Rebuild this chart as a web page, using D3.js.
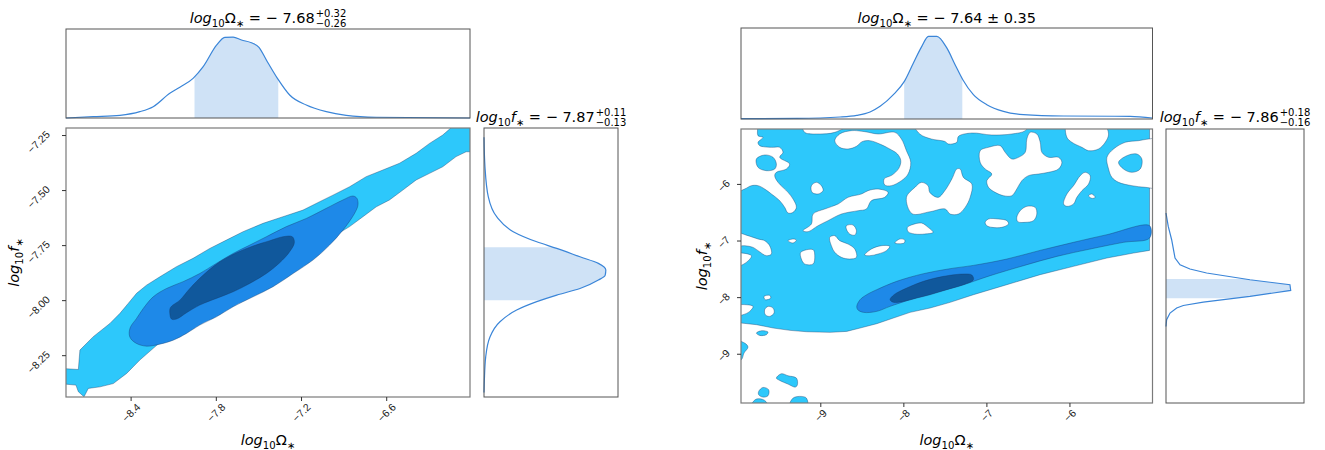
<!DOCTYPE html>
<html>
<head>
<meta charset="utf-8">
<script src="https://cdn.jsdelivr.net/npm/d3@7"></script>
<style>
  body { margin: 0; background: #fff; }
  svg { font-family: "DejaVu Sans", sans-serif; }
</style>
</head>
<body>
<div id="chart"></div>
<script>
// axis limits and ticks
const leftOmegaDomain = [-8.855, -6.01];
const leftFDomain = [-8.44, -7.218];
const rightOmegaDomain = [-9.955, -5.0];
const rightFDomain = [-9.87, -5.03];
const leftOmegaTicks = [-8.4, -7.8, -7.2, -6.6];
const leftFTicks = [-7.25, -7.5, -7.75, -8.0, -8.25];
const rightOmegaTicks = [-9, -8, -7, -6];
const rightFTicks = [-6, -7, -8, -9];

// marginal posteriors [value, density]
const leftOmegaPdf = [[-8.855,0],[-8.663,0.016],[-8.475,0.033],[-8.335,0.078],[-8.241,0.14],[-8.124,0.305],[-8.053,0.38],[-7.96,0.49],[-7.889,0.634],[-7.795,0.9],[-7.737,0.997],[-7.678,1.0],[-7.619,0.964],[-7.549,0.93],[-7.496,0.874],[-7.444,0.717],[-7.366,0.49],[-7.28,0.284],[-7.163,0.16],[-7.022,0.078],[-6.882,0.033],[-6.67,0.009],[-6.01,0]];
const leftFPdf = [[-7.26,0],[-7.394,0.008],[-7.53,0.035],[-7.621,0.104],[-7.689,0.24],[-7.735,0.433],[-7.765,0.597],[-7.803,0.788],[-7.833,0.939],[-7.863,1.0],[-7.886,0.995],[-7.909,0.939],[-7.947,0.788],[-7.977,0.597],[-8.007,0.433],[-8.045,0.268],[-8.098,0.131],[-8.167,0.049],[-8.258,0.014],[-8.364,0.003],[-8.42,0]];
const rightOmegaPdf = [[-9.955,0.004],[-9.284,0.007],[-8.762,0.024],[-8.561,0.044],[-8.401,0.085],[-8.28,0.153],[-8.12,0.294],[-7.988,0.455],[-7.879,0.677],[-7.778,0.878],[-7.698,0.999],[-7.597,0.999],[-7.477,0.859],[-7.377,0.657],[-7.284,0.475],[-7.157,0.294],[-6.995,0.173],[-6.795,0.092],[-6.554,0.052],[-6.072,0.036],[-5.268,0.032],[-5.0,0.012]];
const rightFPdf = [[-6.514,0],[-6.751,0.018],[-6.986,0.045],[-7.309,0.072],[-7.428,0.112],[-7.503,0.191],[-7.574,0.324],[-7.693,0.669],[-7.781,0.988],[-7.882,0.994],[-7.988,0.669],[-8.087,0.297],[-8.147,0.138],[-8.193,0.085],[-8.281,0.032],[-8.399,0.005],[-8.518,0]];

// 68% credible bands
const leftOmegaBand = [-7.95, -7.36];
const leftFBand = [-8.00, -7.76];
const rightOmegaBand = [-7.99, -7.29];
const rightFBand = [-8.02, -7.68];

// left 2D contours [log10 Omega, log10 f]
const leftLight = [[-8.9,-8.31],[-8.768,-8.315],[-8.757,-8.227],[-8.663,-8.166],[-8.546,-8.106],[-8.475,-8.06],[-8.417,-8.015],[-8.358,-7.969],[-8.288,-7.932],[-8.194,-7.894],[-8.077,-7.848],[-7.96,-7.81],[-7.842,-7.765],[-7.725,-7.727],[-7.608,-7.689],[-7.467,-7.651],[-7.327,-7.621],[-7.186,-7.591],[-7.069,-7.553],[-6.975,-7.523],[-6.858,-7.485],[-6.741,-7.439],[-6.624,-7.409],[-6.506,-7.378],[-6.389,-7.333],[-6.295,-7.288],[-6.202,-7.25],[-6.108,-7.197],[-5.967,-7.197],[-5.967,-7.326],[-6.037,-7.326],[-6.108,-7.348],[-6.202,-7.394],[-6.295,-7.424],[-6.389,-7.454],[-6.483,-7.5],[-6.577,-7.545],[-6.67,-7.576],[-6.764,-7.621],[-6.858,-7.666],[-6.975,-7.712],[-7.069,-7.75],[-7.186,-7.788],[-7.28,-7.818],[-7.374,-7.848],[-7.491,-7.886],[-7.608,-7.924],[-7.725,-7.969],[-7.842,-8.015],[-7.96,-8.06],[-8.053,-8.106],[-8.147,-8.166],[-8.241,-8.219],[-8.335,-8.272],[-8.428,-8.333],[-8.522,-8.379],[-8.616,-8.394],[-8.698,-8.401],[-8.728,-8.439],[-8.768,-8.416],[-8.785,-8.386],[-8.9,-8.379]];
const leftMid = [[-8.41,-8.151],[-8.4,-8.121],[-8.358,-8.083],[-8.311,-8.038],[-8.241,-7.985],[-8.147,-7.947],[-8.03,-7.916],[-7.913,-7.879],[-7.796,-7.833],[-7.678,-7.788],[-7.561,-7.75],[-7.444,-7.712],[-7.303,-7.666],[-7.163,-7.629],[-7.022,-7.583],[-6.905,-7.545],[-6.834,-7.527],[-6.806,-7.538],[-6.799,-7.568],[-6.823,-7.606],[-6.905,-7.682],[-6.999,-7.75],[-7.116,-7.818],[-7.256,-7.879],[-7.397,-7.939],[-7.538,-7.985],[-7.678,-8.03],[-7.796,-8.076],[-7.913,-8.113],[-8.006,-8.151],[-8.1,-8.182],[-8.194,-8.2],[-8.288,-8.209],[-8.358,-8.197],[-8.4,-8.174]];
const leftDark = [[-8.124,-8.06],[-8.119,-8.033],[-8.053,-8.0],[-7.983,-7.947],[-7.889,-7.886],[-7.772,-7.826],[-7.655,-7.785],[-7.538,-7.754],[-7.42,-7.73],[-7.327,-7.712],[-7.261,-7.712],[-7.247,-7.739],[-7.28,-7.78],[-7.35,-7.83],[-7.444,-7.879],[-7.561,-7.924],[-7.678,-7.962],[-7.796,-7.992],[-7.913,-8.022],[-8.006,-8.057],[-8.077,-8.086],[-8.112,-8.086]];

// right 2D contours
const rightLight = [[-10.05,-4.95],[-5.035,-4.95],[-5.035,-7.174],[-5.228,-7.221],[-5.549,-7.309],[-5.951,-7.456],[-6.353,-7.603],[-6.754,-7.78],[-7.156,-7.957],[-7.437,-8.092],[-7.678,-8.192],[-7.919,-8.269],[-8.12,-8.369],[-8.32,-8.469],[-8.521,-8.546],[-8.682,-8.605],[-8.883,-8.622],[-9.164,-8.611],[-9.365,-8.587],[-9.565,-8.546],[-9.766,-8.487],[-9.955,-8.457],[-10.05,-8.45]];
const rightHoles = [
  [[-10.05,-4.95],[-9.77,-4.95],[-9.75,-5.148],[-9.69,-5.177],[-9.75,-5.265],[-9.73,-5.324],[-9.589,-5.354],[-9.489,-5.354],[-9.449,-5.442],[-9.489,-5.53],[-9.369,-5.648],[-9.409,-5.737],[-9.529,-5.795],[-9.549,-5.854],[-9.509,-5.972],[-9.389,-6.149],[-9.328,-6.267],[-9.288,-6.414],[-9.328,-6.502],[-9.389,-6.514],[-9.429,-6.414],[-9.489,-6.296],[-9.589,-6.178],[-9.67,-6.09],[-9.75,-6.031],[-9.83,-6.031],[-9.911,-6.09],[-10.05,-6.149]],
  [[-9.208,-4.95],[-9.188,-5.089],[-9.027,-5.118],[-8.826,-5.089],[-8.666,-4.95]],
  [[-8.826,-5.236],[-8.766,-5.118],[-8.626,-5.059],[-8.465,-5.077],[-8.304,-5.118],[-8.103,-5.089],[-8.023,-5.207],[-7.963,-5.413],[-7.911,-5.619],[-7.943,-5.825],[-8.023,-5.943],[-8.144,-6.031],[-8.224,-6.019],[-8.232,-5.913],[-8.136,-5.843],[-8.055,-5.725],[-8.031,-5.589],[-8.071,-5.472],[-8.164,-5.383],[-8.284,-5.295],[-8.405,-5.236],[-8.497,-5.254],[-8.565,-5.336],[-8.666,-5.383],[-8.766,-5.354]],
  [[-7.863,-4.95],[-7.802,-5.118],[-7.662,-5.207],[-7.5,-5.25],[-7.457,-5.295],[-7.356,-5.265],[-7.336,-5.16],[-7.176,-5.101],[-6.935,-5.136],[-6.694,-5.118],[-6.533,-5.059],[-6.493,-4.95]],
  [[-7.963,-6.238],[-7.862,-6.062],[-7.783,-5.973],[-7.702,-6.032],[-7.682,-6.15],[-7.582,-6.238],[-7.501,-6.12],[-7.416,-5.913],[-7.356,-5.737],[-7.316,-5.737],[-7.277,-5.885],[-7.175,-6.002],[-7.196,-6.238],[-7.256,-6.415],[-7.337,-6.532],[-7.437,-6.532],[-7.497,-6.443],[-7.678,-6.491],[-7.895,-6.526]],
  [[-9.107,-6.031],[-9.047,-5.972],[-8.987,-6.031],[-8.967,-6.119],[-9.027,-6.178],[-9.099,-6.149]],
  [[-9.208,-6.826],[-9.107,-6.708],[-9.087,-6.532],[-8.947,-6.443],[-8.786,-6.355],[-8.666,-6.237],[-8.505,-6.178],[-8.425,-6.119],[-8.304,-6.09],[-8.184,-6.149],[-8.224,-6.237],[-8.385,-6.296],[-8.445,-6.443],[-8.545,-6.473],[-8.746,-6.532],[-8.907,-6.649],[-9.027,-6.738],[-9.148,-6.844]],
  [[-8.686,-6.738],[-8.606,-6.726],[-8.565,-6.826],[-8.585,-6.903],[-8.646,-6.885],[-8.686,-6.797]],
  [[-8.887,-6.944],[-8.826,-6.914],[-8.766,-7.003],[-8.666,-7.062],[-8.585,-7.15],[-8.565,-7.297],[-8.646,-7.327],[-8.746,-7.297],[-8.826,-7.209],[-8.867,-7.091]],
  [[-9.389,-7.003],[-9.328,-6.973],[-9.288,-6.991],[-9.328,-7.044]],
  [[-9.236,-7.209],[-9.087,-7.162],[-9.067,-7.268],[-9.087,-7.415],[-9.188,-7.415],[-9.228,-7.327]],
  [[-8.465,-7.256],[-8.385,-7.15],[-8.264,-7.091],[-8.164,-7.103],[-8.204,-7.179],[-8.304,-7.238],[-8.405,-7.268]],
  [[-8.103,-7.044],[-8.043,-6.973],[-7.983,-6.991],[-7.991,-7.044]],
  [[-7.951,-6.767],[-7.903,-6.726],[-7.782,-6.691],[-7.702,-6.767],[-7.642,-6.855],[-7.742,-6.885],[-7.863,-6.885],[-7.943,-6.844]],
  [[-10.05,-6.855],[-9.871,-6.914],[-9.75,-6.973],[-9.67,-7.003],[-9.61,-7.091],[-9.589,-7.238],[-9.65,-7.268],[-9.75,-7.179],[-9.81,-7.121],[-9.911,-7.091],[-10.05,-7.091]],
  [[-10.05,-7.238],[-9.83,-7.268],[-9.891,-7.386],[-10.05,-7.474]],
  [[-7.075,-5.413],[-6.975,-5.354],[-6.834,-5.324],[-6.774,-5.442],[-6.694,-5.56],[-6.613,-5.53],[-6.533,-5.442],[-6.513,-5.207],[-6.473,-5.089],[-6.393,-5.118],[-6.352,-5.265],[-6.332,-5.442],[-6.252,-5.53],[-6.132,-5.53],[-6.091,-5.619],[-6.132,-5.737],[-6.252,-5.795],[-6.373,-5.825],[-6.493,-5.854],[-6.573,-5.943],[-6.634,-6.09],[-6.694,-6.208],[-6.794,-6.208],[-6.895,-6.149],[-6.975,-6.06],[-6.995,-5.943],[-6.935,-5.825],[-7.015,-5.737],[-7.075,-5.619]],
  [[-6.031,-4.95],[-6.031,-5.177],[-5.971,-5.265],[-5.85,-5.354],[-5.77,-5.413],[-5.65,-5.383],[-5.569,-5.265],[-5.529,-5.118],[-5.589,-4.95]],
  [[-5.549,-5.53],[-5.469,-5.383],[-5.328,-5.265],[-5.168,-5.236],[-5.047,-5.207],[-4.9,-5.207],[-4.9,-6.06],[-5.087,-6.06],[-5.248,-6.031],[-5.409,-5.972],[-5.489,-5.884],[-5.529,-5.737]],
  [[-6.071,-6.355],[-6.031,-6.178],[-5.951,-6.031],[-5.87,-5.854],[-5.81,-5.795],[-5.75,-5.854],[-5.77,-6.002],[-5.85,-6.119],[-5.911,-6.237],[-5.951,-6.355],[-6.031,-6.396]],
  [[-5.77,-6.208],[-5.73,-6.178],[-5.69,-6.237],[-5.73,-6.255]],
  [[-6.634,-6.59],[-6.593,-6.473],[-6.513,-6.396],[-6.413,-6.414],[-6.393,-6.532],[-6.433,-6.649],[-6.533,-6.679],[-6.622,-6.667]],
  [[-7.015,-6.679],[-6.975,-6.62],[-6.854,-6.62],[-6.754,-6.649],[-6.734,-6.708],[-6.814,-6.767],[-6.935,-6.767],[-6.995,-6.738]],
  [[-10.05,-8.164],[-9.891,-8.134],[-9.81,-8.164],[-9.85,-8.252],[-9.931,-8.311],[-10.05,-8.34]],
  [[-9.678,-7.987],[-9.609,-7.969],[-9.597,-8.017],[-9.662,-8.046]],
  [[-9.67,-8.223],[-9.63,-8.164],[-9.569,-8.193],[-9.557,-8.282],[-9.61,-8.34],[-9.662,-8.311]]
];
const rightIslands = [
  [[-9.77,-5.56],[-9.67,-5.489],[-9.569,-5.53],[-9.529,-5.648],[-9.549,-5.737],[-9.65,-5.766],[-9.75,-5.707]],
  [[-5.409,-5.619],[-5.308,-5.501],[-5.188,-5.472],[-5.128,-5.56],[-5.148,-5.737],[-5.248,-5.795],[-5.349,-5.737]],
  [[-9.77,-8.635],[-9.71,-8.594],[-9.63,-8.617],[-9.65,-8.664],[-9.73,-8.676]],
  [[-10.05,-8.764],[-9.911,-8.812],[-9.871,-8.882],[-9.919,-8.988],[-9.951,-9.106],[-10.05,-9.135]],
  [[-9.529,-9.43],[-9.469,-9.353],[-9.389,-9.389],[-9.288,-9.43],[-9.276,-9.548],[-9.3,-9.589],[-9.389,-9.536],[-9.489,-9.471]],
  [[-9.742,-9.665],[-9.69,-9.595],[-9.622,-9.636],[-9.63,-9.742],[-9.69,-9.766],[-9.742,-9.724]],
  [[-9.838,-9.93],[-9.77,-9.801],[-9.67,-9.824],[-9.63,-9.93]],
  [[-9.369,-9.93],[-9.328,-9.783],[-9.228,-9.754],[-9.168,-9.783],[-9.156,-9.93]]
];
const rightMid = [[-8.561,-8.163],[-8.521,-8.045],[-8.441,-7.957],[-8.32,-7.868],[-8.08,-7.721],[-7.758,-7.586],[-7.437,-7.497],[-7.156,-7.439],[-6.754,-7.327],[-6.353,-7.174],[-5.951,-7.032],[-5.549,-6.897],[-5.035,-6.738],[-5.035,-6.956],[-5.349,-7.032],[-5.75,-7.15],[-6.152,-7.28],[-6.553,-7.444],[-6.955,-7.621],[-7.276,-7.78],[-7.598,-7.91],[-7.919,-8.045],[-8.16,-8.163],[-8.32,-8.251],[-8.481,-8.269],[-8.549,-8.222]];
const rightDark = [[-8.16,-8.045],[-8.112,-7.957],[-7.959,-7.839],[-7.758,-7.721],[-7.517,-7.633],[-7.276,-7.592],[-7.176,-7.609],[-7.156,-7.692],[-7.276,-7.78],[-7.477,-7.868],[-7.678,-7.957],[-7.839,-8.016],[-8.0,-8.075],[-8.12,-8.092]];

const light = "#2dc8fb", mid = "#1e89e8", dark = "#10589c";
const edge = "rgba(20,55,100,0.55)";
const pdfLine = "#3a85d8", pdfFill = "#cfe2f6";

const width = 1325, height = 450;
const svg = d3.select("#chart").append("svg")
    .attr("width", width)
    .attr("height", height);

const panels = [
  { id: "L", joint: {x: 66, y: 128, w: 404, h: 269}, top: {x: 66, y: 29, w: 404, h: 89}, side: {x: 484, y: 128, w: 134, h: 269},
    xd: leftOmegaDomain, yd: leftFDomain, xt: leftOmegaTicks, yt: leftFTicks, xf: d3.format(".1f"), yf: d3.format(".2f"),
    xPdf: leftOmegaPdf, yPdf: leftFPdf, xBand: leftOmegaBand, yBand: leftFBand, yTickShift: [-18, -3], yLabelGap: 47,
    topTitle: [" = − 7.68", "+0.32", "−0.26"], sideTitle: [" = − 7.87", "+0.11", "−0.13"] },
  { id: "R", joint: {x: 741, y: 129, w: 411.5, h: 274}, top: {x: 741, y: 28, w: 411.5, h: 91}, side: {x: 1166, y: 129, w: 138, h: 274},
    xd: rightOmegaDomain, yd: rightFDomain, xt: rightOmegaTicks, yt: rightFTicks, xf: d3.format("d"), yf: d3.format("d"),
    xPdf: rightOmegaPdf, yPdf: rightFPdf, xBand: rightOmegaBand, yBand: rightFBand, yTickShift: [-13, -3], yLabelGap: 34,
    topTitle: [" = − 7.64 ± 0.35", null, null], sideTitle: [" = − 7.86", "+0.18", "−0.16"] }
];

// write log10Ω* style math with tspans
function mathText(sel, parts, size) {
  const t = sel.append("text").attr("font-size", size).attr("fill", "#000");
  let down = false;
  parts.forEach(p => {
    const s = t.append("tspan").text(p[0]);
    if (p[1] === "i") s.attr("font-style", "italic");
    if (p[1] === "s") {
      s.attr("font-size", size * 0.7);
      if (!down) { s.attr("dy", size * 0.28); down = true; }
    } else if (down) { s.attr("dy", -size * 0.28); down = false; }
  });
  return t;
}
const omegaParts = [["log", "i"], ["10", "s"], ["Ω", ""], ["∗", "s"]];
const fParts = [["log", "i"], ["10", "s"], ["f", "i"], ["∗", "s"]];

function title(cx, y, parts, rest) {
  const g = svg.append("g");
  const t = mathText(g, parts.concat([[rest[0], ""]]), 14.5);
  const w = t.node().getComputedTextLength();
  let extra = 0;
  if (rest[1]) {
    const a = g.append("text").attr("x", w + 1).attr("y", -6).attr("font-size", 10).text(rest[1]);
    const b = g.append("text").attr("x", w + 1).attr("y", 4).attr("font-size", 10).text(rest[2]);
    extra = Math.max(a.node().getComputedTextLength(), b.node().getComputedTextLength()) + 1;
  }
  g.attr("transform", `translate(${cx - (w + extra) / 2},${y})`);
}

const lineFor = (x, y, curve) => d3.line().x(d => x(d[0])).y(d => y(d[1])).curve(curve);

panels.forEach(p => {
  const J = p.joint, T = p.top, S = p.side;
  const x = d3.scaleLinear().domain(p.xd).range([J.x, J.x + J.w]);
  const y = d3.scaleLinear().domain(p.yd).range([J.y + J.h, J.y]);

  // clip for the joint panel
  svg.append("clipPath").attr("id", "clip" + p.id)
    .append("rect").attr("x", J.x).attr("y", J.y).attr("width", J.w).attr("height", J.h);
  const jg = svg.append("g").attr("clip-path", `url(#clip${p.id})`);

  const smooth = lineFor(x, y, d3.curveCatmullRomClosed.alpha(0.5));
  const straight = lineFor(x, y, d3.curveLinearClosed);

  if (p.id === "L") {
    jg.append("path").attr("d", straight(leftLight)).attr("fill", light).attr("stroke", edge).attr("stroke-width", 0.7);
    jg.append("path").attr("d", smooth(leftMid)).attr("fill", mid).attr("stroke", edge).attr("stroke-width", 0.7);
    jg.append("path").attr("d", smooth(leftDark)).attr("fill", dark).attr("stroke", edge).attr("stroke-width", 0.7);
  } else {
    jg.append("path").attr("d", straight(rightLight)).attr("fill", light).attr("stroke", edge).attr("stroke-width", 0.7);
    jg.selectAll(".hole").data(rightHoles).enter().append("path")
      .attr("d", d => smooth(d)).attr("fill", "#fff").attr("stroke", edge).attr("stroke-width", 0.7);
    jg.selectAll(".island").data(rightIslands).enter().append("path")
      .attr("d", d => smooth(d)).attr("fill", light).attr("stroke", edge).attr("stroke-width", 0.7);
    jg.append("path").attr("d", smooth(rightMid)).attr("fill", mid).attr("stroke", edge).attr("stroke-width", 0.7);
    jg.append("path").attr("d", smooth(rightDark)).attr("fill", dark).attr("stroke", edge).attr("stroke-width", 0.7);
  }

  svg.append("rect").attr("x", J.x).attr("y", J.y).attr("width", J.w).attr("height", J.h)
    .attr("fill", "none").attr("stroke", "#7a7a7a").attr("stroke-width", 1.2);

  // x axis
  const xa = svg.append("g").attr("transform", `translate(0,${J.y + J.h})`)
    .call(d3.axisBottom(x).tickValues(p.xt).tickFormat(p.xf).tickSize(4));
  xa.select(".domain").remove();
  xa.selectAll("line").attr("stroke", "#333");
  xa.selectAll("text").attr("font-size", 10.5).attr("fill", "#222")
    .attr("text-anchor", "middle").attr("dy", "0.35em").attr("y", 0)
    .attr("transform", function() {
      const L = this.getComputedTextLength();
      return `translate(0,${5 + (L + 9) * 0.3536}) rotate(-45)`;
    });

  // y axis
  const ya = svg.append("g").attr("transform", `translate(${J.x},0)`)
    .call(d3.axisLeft(y).tickValues(p.yt).tickFormat(p.yf).tickSize(4));
  ya.select(".domain").remove();
  ya.selectAll("line").attr("stroke", "#333");
  ya.selectAll("text").attr("font-size", 10.5).attr("fill", "#222")
    .attr("text-anchor", "end").attr("dy", "0.35em").attr("x", 0)
    .attr("transform", `translate(${p.yTickShift[0]},${p.yTickShift[1]}) rotate(-45)`);

  // axis labels
  const xl = mathText(svg.append("g").attr("transform", `translate(${J.x + J.w / 2},445)`), omegaParts, 14.5);
  xl.attr("text-anchor", "middle");
  const yl = mathText(svg.append("g").attr("transform", `translate(${J.x - p.yLabelGap},${J.y + J.h / 2}) rotate(-90)`), fParts, 14.5);
  yl.attr("text-anchor", "middle");

  // top marginal
  const ty = d3.scaleLinear().domain([0, 1.1]).range([T.y + T.h, T.y]);
  svg.append("clipPath").attr("id", "band" + p.id + "x")
    .append("rect").attr("x", x(p.xBand[0])).attr("y", T.y).attr("width", x(p.xBand[1]) - x(p.xBand[0])).attr("height", T.h);
  svg.append("path").datum(p.xPdf)
    .attr("clip-path", `url(#band${p.id}x)`)
    .attr("d", d3.area().x(d => x(d[0])).y0(ty(0)).y1(d => ty(d[1])).curve(d3.curveMonotoneX))
    .attr("fill", pdfFill);
  svg.append("path").datum(p.xPdf)
    .attr("d", d3.line().x(d => x(d[0])).y(d => ty(d[1])).curve(d3.curveMonotoneX))
    .attr("fill", "none").attr("stroke", pdfLine).attr("stroke-width", 1.2);
  svg.append("rect").attr("x", T.x).attr("y", T.y).attr("width", T.w).attr("height", T.h)
    .attr("fill", "none").attr("stroke", "#555").attr("stroke-width", 1);

  // side marginal
  const sx = d3.scaleLinear().domain([0, 1.1]).range([S.x, S.x + S.w]);
  svg.append("clipPath").attr("id", "band" + p.id + "y")
    .append("rect").attr("x", S.x).attr("y", y(p.yBand[1])).attr("width", S.w).attr("height", y(p.yBand[0]) - y(p.yBand[1]));
  const sideCurve = p.id === "L" ? d3.curveMonotoneY : d3.curveLinear;
  svg.append("path").datum(p.yPdf)
    .attr("clip-path", `url(#band${p.id}y)`)
    .attr("d", d3.area().y(d => y(d[0])).x0(sx(0)).x1(d => sx(d[1])).curve(sideCurve))
    .attr("fill", pdfFill);
  svg.append("path").datum(p.yPdf)
    .attr("d", d3.line().x(d => sx(d[1])).y(d => y(d[0])).curve(sideCurve))
    .attr("fill", "none").attr("stroke", pdfLine).attr("stroke-width", 1.2);
  svg.append("rect").attr("x", S.x).attr("y", S.y).attr("width", S.w).attr("height", S.h)
    .attr("fill", "none").attr("stroke", "#555").attr("stroke-width", 1);

  title(T.x + T.w / 2, 22.5, omegaParts, p.topTitle);
  title(S.x + S.w / 2, 121.5, fParts, p.sideTitle);
});
</script>
</body>
</html>
